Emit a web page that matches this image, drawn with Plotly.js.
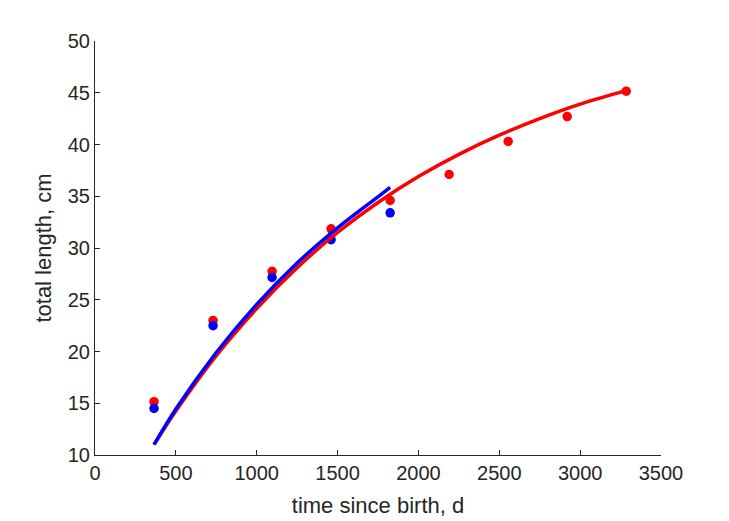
<!DOCTYPE html>
<html>
<head>
<meta charset="utf-8">
<script src="https://cdn.plot.ly/plotly-3.0.1.min.js"></script>
<style>html,body{margin:0;padding:0;background:#fff;}#plot{width:729px;height:521px;}</style>
</head>
<body>
<div id="plot"></div>
<script>
// observed data
const ageDays = [365, 730, 1095, 1460, 1825, 2190, 2555, 2920, 3285];
const lengthRed = [15.15, 23.0, 27.75, 31.85, 34.6, 37.1, 40.3, 42.7, 45.15];
const ageDaysBlue = [365, 730, 1095, 1460, 1825];
const lengthBlue = [14.5, 22.5, 27.15, 30.8, 33.4];
// fitted curves
const curveRedT = [365, 500, 750, 1000, 1250, 1500, 1750, 2000, 2250, 2500, 2750, 3000, 3285];
const curveRedL = [11.0, 14.25, 19.6, 24.15, 28.1, 31.5, 34.4, 36.9, 39.05, 40.9, 42.5, 43.9, 45.2];
const curveBlueT = [365, 500, 750, 1000, 1250, 1500, 1750, 1825];
const curveBlueL = [11.0, 14.45, 19.9, 24.55, 28.55, 31.95, 34.95, 35.85];

const xTicks = [0, 500, 1000, 1500, 2000, 2500, 3000, 3500];
const yTicks = [10, 15, 20, 25, 30, 35, 40, 45, 50];

const traces = [
  {x: ageDays, y: lengthRed, mode: 'markers', type: 'scatter', marker: {color: '#ff0000', size: 9.5}, hoverinfo: 'skip'},
  {x: ageDaysBlue, y: lengthBlue, mode: 'markers', type: 'scatter', marker: {color: '#0000ff', size: 9.5}, hoverinfo: 'skip'},
  {x: curveRedT, y: curveRedL, mode: 'lines', type: 'scatter', line: {color: '#ff0000', width: 3.5, shape: 'spline'}, hoverinfo: 'skip'},
  {x: curveBlueT, y: curveBlueL, mode: 'lines', type: 'scatter', line: {color: '#0000ff', width: 3.5, shape: 'spline'}, hoverinfo: 'skip'}
];

const FONT = 'Liberation Sans, Arial, sans-serif';
const axisCommon = {
  showgrid: false, zeroline: false, showline: true, linecolor: '#262626', linewidth: 1,
  ticks: 'inside', ticklen: 5, tickcolor: '#262626', tickwidth: 1,
  tickfont: {family: FONT, size: 20, color: '#262626'},
  mirror: false
};

const layout = {
  width: 729, height: 521,
  margin: {l: 95, r: 68, t: 41, b: 66},
  paper_bgcolor: '#fff', plot_bgcolor: '#fff',
  showlegend: false,
  xaxis: Object.assign({}, axisCommon, {
    range: [0, 3500], tickvals: xTicks, ticktext: xTicks.map(String),
    title: {text: 'time since birth, d', font: {family: FONT, size: 22, color: '#262626'}, standoff: 14}
  }),
  yaxis: Object.assign({}, axisCommon, {
    range: [10, 50], tickvals: yTicks, ticktext: yTicks.map(String),
    title: {text: 'total length, cm', font: {family: FONT, size: 22, color: '#262626'}, standoff: 10}
  })
};

Plotly.newPlot('plot', traces, layout, {displayModeBar: false, staticPlot: true});
</script>
</body>
</html>
